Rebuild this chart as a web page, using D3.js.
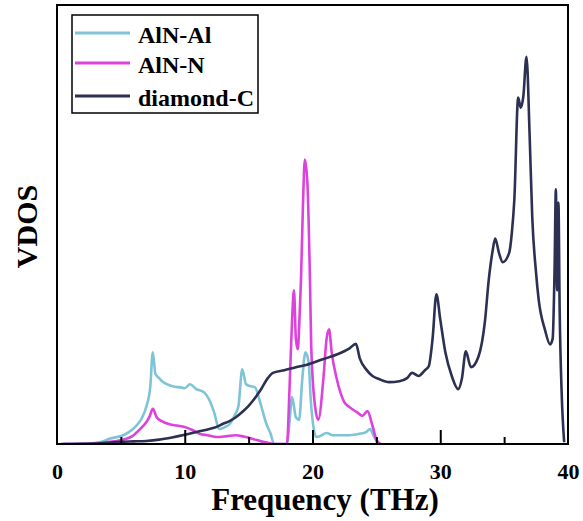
<!DOCTYPE html>
<html>
<head>
<meta charset="utf-8">
<script src="https://cdn.jsdelivr.net/npm/d3@7"></script>
<style>
  body { margin: 0; background: #fff; }
</style>
</head>
<body>
<div id="chart"></div>
<script>
// frequencies in THz, VDOS in arbitrary units
const freqAl = [0.5, 2.5, 3.5, 4.1, 5.2, 5.9, 6.25, 6.7, 7.0, 7.3, 7.5, 7.7, 8.0, 8.3, 8.8, 9.3, 9.7, 10.0, 10.4, 10.9, 11.5, 11.9, 12.3, 12.7, 13.1, 13.5, 13.9, 14.2, 14.5, 14.8, 15.1, 15.5, 15.9, 16.4, 16.7, 17.0, 17.6, 18.0, 18.2, 18.4, 18.7, 18.95, 19.2, 19.45, 19.7, 19.85, 20.1, 20.3, 20.6, 21.1, 21.6, 22.9, 23.8, 24.2, 24.5, 24.8, 25.1, 25.4];
const vdosAl = [0, 0.1, 0.5, 1.2, 2.0, 3.3, 4.3, 6.2, 8.6, 13.0, 20.9, 16.0, 15.0, 14.1, 13.4, 13.0, 12.9, 12.7, 13.6, 12.5, 11.8, 10.2, 7.2, 3.4, 3.8, 4.5, 6.5, 8.6, 17.0, 13.6, 13.2, 12.9, 9.5, 4.5, 2.5, 0, 0, 0, 5.0, 10.7, 6.1, 5.5, 14.8, 20.9, 18.6, 10.7, 3.4, 1.6, 1.8, 2.5, 2.0, 2.0, 2.4, 2.7, 3.4, 1.8, 0.3, 0];

const freqN = [0.5, 2.5, 3.5, 4.5, 5.2, 5.9, 6.5, 7.0, 7.25, 7.5, 7.8, 8.2, 8.8, 9.4, 10.0, 10.6, 11.2, 11.8, 12.5, 13.3, 14.0, 14.6, 15.4, 16.0, 16.5, 17.0, 17.5, 18.0, 18.2, 18.4, 18.55, 18.7, 18.85, 18.97, 19.1, 19.25, 19.4, 19.6, 19.8, 19.9, 20.2, 20.45, 20.85, 21.1, 21.3, 21.5, 21.9, 22.5, 22.9, 23.5, 23.9, 24.3, 24.7, 25.0, 25.3];
const vdosN = [0, 0.1, 0.3, 0.6, 1.0, 1.8, 3.4, 5.0, 6.3, 8.0, 6.1, 5.2, 4.5, 4.2, 3.9, 3.2, 2.3, 2.0, 1.6, 1.8, 2.0, 1.7, 1.1, 0.6, 0.3, 0, 0, 0, 12.5, 28.2, 35.0, 23.9, 21.6, 27.7, 37.5, 54.0, 64.8, 59.5, 37.5, 22.3, 8.6, 5.5, 14.8, 23.9, 26.1, 20.9, 14.8, 9.5, 8.4, 7.2, 6.4, 7.5, 4.1, 1.0, 0];

const freqC = [0.3, 2, 4, 5, 6, 7, 8, 9, 10, 11, 12, 12.5, 13, 13.5, 14, 14.5, 15, 15.6, 16.0, 16.5, 16.9, 17.8, 18.7, 19.5, 20.8, 22.0, 22.9, 23.4, 23.7, 24.2, 24.7, 25.2, 26.0, 26.8, 27.4, 27.8, 28.3, 28.8, 29.1, 29.4, 29.7, 30.0, 30.4, 30.9, 31.4, 31.7, 32.0, 32.4, 33.0, 33.5, 33.8, 34.1, 34.3, 34.6, 34.9, 35.4, 35.6, 35.8, 36.1, 36.3, 36.5, 36.75, 37.0, 37.2, 37.5, 37.7, 38.2, 38.6, 38.8, 38.95, 39.05, 39.15, 39.25, 39.35, 39.5, 39.7];
const vdosC = [0, 0.05, 0.3, 0.5, 0.6, 0.7, 1.0, 1.5, 2.1, 2.8, 3.5, 3.9, 4.6, 5.2, 6.1, 7.3, 8.7, 10.9, 12.6, 15.0, 16.2, 16.8, 17.5, 18.0, 19.3, 20.5, 21.8, 22.8, 19.5, 17.0, 15.5, 14.8, 14.1, 14.3, 15.0, 16.2, 15.5, 16.8, 17.7, 24.0, 34.1, 28.4, 20.9, 15.5, 12.5, 15.0, 21.1, 17.5, 20.0, 28.0, 37.5, 44.0, 46.8, 43.5, 41.4, 43.6, 48.0, 55.7, 78.9, 76.6, 79.1, 88.2, 70.0, 51.8, 39.0, 33.0, 26.0, 22.7, 24.0, 40.0, 58.0, 35.0, 55.0, 30.0, 12.0, 0.4];

const seriesNames = ['AlN-Al', 'AlN-N', 'diamond-C'];
const seriesColors = ['#7ec4d6', '#dd42dd', '#2c3052'];
const xTicks = [0, 10, 20, 30, 40];
const xMinorTicks = [5, 15, 25, 35];

const series = [
  { name: seriesNames[0], color: seriesColors[0], freq: freqAl, vdos: vdosAl },
  { name: seriesNames[1], color: seriesColors[1], freq: freqN, vdos: vdosN },
  { name: seriesNames[2], color: seriesColors[2], freq: freqC, vdos: vdosC }
];

const outerWidth = 583;
const outerHeight = 521;
const margin = { top: 5, right: 15, bottom: 77, left: 57 };
const font = '"Liberation Serif", "Times New Roman", serif';

const svg = d3.select('#chart')
  .append('svg')
  .attr('width', outerWidth)
  .attr('height', outerHeight);

const x = d3.scaleLinear().domain([0, 40]).range([margin.left, outerWidth - margin.right]);
const y = d3.scaleLinear().domain([0, 100]).range([outerHeight - margin.bottom, margin.top]);

svg.append('clipPath')
  .attr('id', 'plot-clip')
  .append('rect')
    .attr('x', x(0))
    .attr('y', y(100))
    .attr('width', x(40) - x(0))
    .attr('height', y(0) - y(100));

// curves
const line = d3.line()
  .x(d => x(d[0]))
  .y(d => y(d[1]))
  .curve(d3.curveMonotoneX);

svg.append('g')
  .attr('clip-path', 'url(#plot-clip)')
  .selectAll('path')
  .data(series)
  .enter()
  .append('path')
    .attr('d', s => line(s.freq.map((f, i) => [f, s.vdos[i]])))
    .attr('fill', 'none')
    .attr('stroke', s => s.color)
    .attr('stroke-width', 2.6)
    .attr('stroke-linejoin', 'round');

// inward ticks on the bottom axis
const xAxis = d3.axisBottom(x)
  .tickValues(xTicks)
  .tickSize(-14)
  .tickFormat(d3.format('d'));

const axisG = svg.append('g')
  .attr('transform', `translate(0, ${y(0)})`)
  .call(xAxis);

axisG.select('.domain').remove();
axisG.selectAll('.tick line')
  .attr('stroke', '#000')
  .attr('stroke-width', 2)
  .filter(d => d === 0 || d === 40).remove();
axisG.selectAll('.tick text')
  .attr('font-family', font)
  .attr('font-weight', 'bold')
  .attr('font-size', '22px')
  .attr('fill', '#000')
  .attr('y', 35)
  .attr('dy', 0);

const minorAxis = d3.axisBottom(x)
  .tickValues(xMinorTicks)
  .tickSize(-7)
  .tickFormat('');

const minorG = svg.append('g')
  .attr('transform', `translate(0, ${y(0)})`)
  .call(minorAxis);
minorG.select('.domain').remove();
minorG.selectAll('.tick line')
  .attr('stroke', '#000')
  .attr('stroke-width', 2);

// frame
svg.append('rect')
  .attr('x', x(0))
  .attr('y', y(100))
  .attr('width', x(40) - x(0))
  .attr('height', y(0) - y(100))
  .attr('fill', 'none')
  .attr('stroke', '#000')
  .attr('stroke-width', 2);

// axis titles
svg.append('text')
  .attr('x', 325)
  .attr('y', 510)
  .attr('text-anchor', 'middle')
  .attr('font-family', font)
  .attr('font-weight', 'bold')
  .attr('font-size', '31px')
  .attr('fill', '#000')
  .text('Frequency (THz)');

svg.append('text')
  .attr('transform', `translate(37, ${(y(0) + y(100)) / 2 + 2}) rotate(-90)`)
  .attr('text-anchor', 'middle')
  .attr('font-family', font)
  .attr('font-weight', 'bold')
  .attr('font-size', '30px')
  .attr('fill', '#000')
  .text('VDOS');

// legend
const legend = svg.append('g').attr('transform', 'translate(72, 15)');

legend.append('rect')
  .attr('width', 186)
  .attr('height', 98)
  .attr('fill', '#fff')
  .attr('stroke', '#000')
  .attr('stroke-width', 1.5);

const legendRows = legend.selectAll('g.row')
  .data(series)
  .enter()
  .append('g')
    .attr('class', 'row')
    .attr('transform', (d, i) => `translate(0, ${[18, 48, 81][i]})`);

legendRows.append('line')
  .attr('x1', 3)
  .attr('x2', 58)
  .attr('stroke', d => d.color)
  .attr('stroke-width', 3);

legendRows.append('text')
  .attr('x', 66)
  .attr('y', 10)
  .attr('font-family', font)
  .attr('font-weight', 'bold')
  .attr('font-size', '24px')
  .attr('fill', '#000')
  .text(d => d.name);
</script>
</body>
</html>
